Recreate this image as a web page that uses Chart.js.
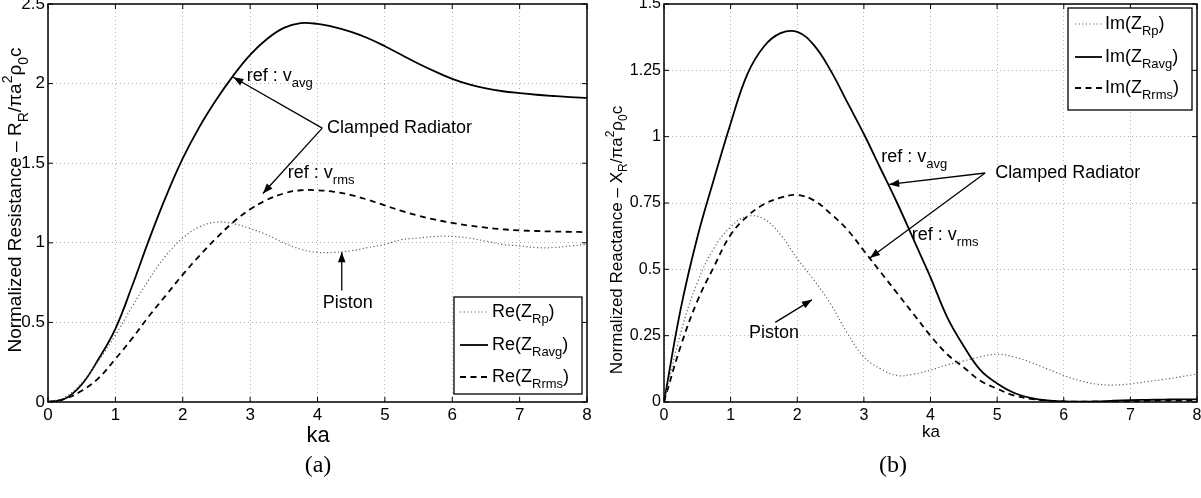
<!DOCTYPE html>
<html><head><meta charset="utf-8">
<script src="https://cdn.jsdelivr.net/npm/chart.js@4.4.0/dist/chart.umd.min.js"></script>
<style>
html,body{margin:0;padding:0;background:#fff;width:1201px;height:498px;overflow:hidden}
#ca{position:absolute;left:0;top:0}
#cb{position:absolute;left:600px;top:0}
</style></head><body>
<canvas id="ca" width="600" height="498"></canvas>
<canvas id="cb" width="601" height="498"></canvas>
<script>
// ---------- data ----------
const ka = [0,0.25,0.5,0.75,1,1.25,1.5,1.75,2,2.25,2.5,2.75,3,3.25,3.5,3.75,4,4.25,4.5,4.75,5,5.25,5.5,5.75,6,6.25,6.5,6.75,7,7.25,7.5,7.75,8];
const xTicks = [0,1,2,3,4,5,6,7,8];
const yTicksA = [0,0.5,1,1.5,2,2.5];
const yTicksB = [0,0.25,0.5,0.75,1,1.25,1.5];

const rePiston = [0,0.03,0.12,0.26,0.42,0.60,0.77,0.92,1.03,1.10,1.13,1.12,1.09,1.05,1.00,0.96,0.94,0.94,0.95,0.97,0.99,1.02,1.03,1.04,1.04,1.03,1.01,0.99,0.98,0.97,0.97,0.98,0.99];
const reAvg = [0,0.02,0.11,0.27,0.46,0.73,1.02,1.29,1.53,1.73,1.90,2.05,2.18,2.28,2.35,2.38,2.375,2.355,2.325,2.285,2.235,2.18,2.125,2.075,2.03,1.995,1.97,1.952,1.94,1.93,1.922,1.915,1.91];
const reRms = [0,0.02,0.07,0.15,0.27,0.40,0.54,0.67,0.80,0.92,1.03,1.13,1.21,1.27,1.31,1.33,1.33,1.32,1.30,1.27,1.235,1.20,1.17,1.145,1.125,1.108,1.095,1.085,1.078,1.074,1.071,1.069,1.067];

const imPiston = [0,0.26,0.45,0.58,0.66,0.70,0.69,0.63,0.54,0.46,0.37,0.26,0.17,0.125,0.10,0.105,0.12,0.14,0.155,0.17,0.18,0.17,0.15,0.125,0.10,0.08,0.067,0.064,0.068,0.077,0.085,0.095,0.105];
const imAvg = [0,0.35,0.62,0.84,1.05,1.235,1.34,1.39,1.395,1.345,1.25,1.13,1.01,0.88,0.75,0.61,0.47,0.32,0.21,0.12,0.07,0.035,0.016,0.006,0.002,0.001,0.002,0.005,0.007,0.008,0.009,0.01,0.01];
const imRms = [0,0.21,0.38,0.51,0.63,0.70,0.745,0.77,0.78,0.76,0.71,0.65,0.57,0.49,0.41,0.33,0.25,0.18,0.13,0.08,0.05,0.025,0.012,0.005,0.002,0.001,0.001,0.002,0.003,0.004,0.005,0.005,0.005];

// ---------- helpers ----------
const FONT = '"Liberation Sans", Arial, Helvetica, sans-serif';
const SERIF = '"Liberation Serif", "DejaVu Serif", serif';
function subSize(s){ return Math.round(s*0.72); }
function richWidth(ctx, segs, size){
  let w=0; for(const s of segs){ ctx.font=(s.v?subSize(size):size)+'px '+FONT; w+=ctx.measureText(s.t).width; } return w;
}
function drawRich(ctx, segs, x, y, size, align){
  const w = richWidth(ctx, segs, size);
  let cx = align==='center' ? x-w/2 : (align==='right' ? x-w : x);
  ctx.textBaseline='middle'; ctx.textAlign='left'; ctx.fillStyle='#000';
  for(const s of segs){
    const sz = s.v ? subSize(size) : size;
    ctx.font = sz+'px '+FONT;
    const dy = s.v==='sub' ? size*0.42 : (s.v==='sup' ? -size*0.40 : 0);
    ctx.fillText(s.t, cx, y+dy);
    cx += ctx.measureText(s.t).width;
  }
}
function arrow(ctx,x1,y1,x2,y2){
  ctx.save(); ctx.strokeStyle='#000'; ctx.lineWidth=1.3; ctx.setLineDash([]);
  ctx.beginPath(); ctx.moveTo(x1,y1); ctx.lineTo(x2,y2); ctx.stroke();
  const a=Math.atan2(y2-y1,x2-x1), L=10, W=3.8;
  ctx.beginPath(); ctx.moveTo(x2,y2);
  ctx.lineTo(x2-L*Math.cos(a)+W*Math.sin(a), y2-L*Math.sin(a)-W*Math.cos(a));
  ctx.lineTo(x2-L*Math.cos(a)-W*Math.sin(a), y2-L*Math.sin(a)+W*Math.cos(a));
  ctx.closePath(); ctx.fillStyle='#000'; ctx.fill(); ctx.restore();
}
const STY = [
  {borderColor:'#606060', borderWidth:1.2, borderDash:[1.2,2.4]},
  {borderColor:'#000', borderWidth:1.8, borderDash:[]},
  {borderColor:'#000', borderWidth:1.8, borderDash:[6,4.5]}
];

function decoPlugin(cfg){
  return {
    id:'deco'+cfg.id,
    afterDatasetsDraw(chart){
      const ctx=chart.ctx, a=chart.chartArea, sx=chart.scales.x, sy=chart.scales.y;
      ctx.save();
      ctx.strokeStyle='#000'; ctx.lineWidth=1.5; ctx.setLineDash([]);
      ctx.strokeRect(a.left, a.top, a.right-a.left, a.bottom-a.top);
      ctx.lineWidth=1;
      ctx.beginPath();
      for(const v of xTicks){ const px=sx.getPixelForValue(v);
        ctx.moveTo(px,a.bottom); ctx.lineTo(px,a.bottom-5); ctx.moveTo(px,a.top); ctx.lineTo(px,a.top+5); }
      for(const v of cfg.yTicks){ const py=sy.getPixelForValue(v);
        ctx.moveTo(a.left,py); ctx.lineTo(a.left+5,py); ctx.moveTo(a.right,py); ctx.lineTo(a.right-5,py); }
      ctx.stroke();
      for(const t of cfg.texts){
        drawRich(ctx, t.segs, sx.getPixelForValue(t.x), sy.getPixelForValue(t.y), 18, t.align||'left');
      }
      for(const r of cfg.arrows){
        arrow(ctx, sx.getPixelForValue(r[0]), sy.getPixelForValue(r[1]), sx.getPixelForValue(r[2]), sy.getPixelForValue(r[3]));
      }
      const L=cfg.legend;
      ctx.fillStyle='#fff'; ctx.fillRect(L.x0,L.y0,L.x1-L.x0,L.y1-L.y0);
      ctx.strokeStyle='#000'; ctx.lineWidth=1.3; ctx.setLineDash([]);
      ctx.strokeRect(L.x0,L.y0,L.x1-L.x0,L.y1-L.y0);
      cfg.legendLabels.forEach((lab,i)=>{
        const y=L.rows[i], st=STY[i];
        ctx.save(); ctx.strokeStyle=st.borderColor; ctx.lineWidth=st.borderWidth; ctx.setLineDash(st.borderDash);
        ctx.beginPath(); ctx.moveTo(L.lx0,y); ctx.lineTo(L.lx1,y); ctx.stroke(); ctx.restore();
        drawRich(ctx, lab, L.tx, y, 18, 'left');
      });
      ctx.restore();
    },
    afterDraw(chart){
      const ctx=chart.ctx; ctx.save();
      ctx.translate(cfg.yTitle.x, cfg.yTitle.y); ctx.rotate(-Math.PI/2);
      drawRich(ctx, cfg.yTitle.segs, 0, 0, cfg.yTitle.size, 'center');
      ctx.restore(); ctx.save();
      ctx.font=cfg.xTitle.size+'px '+FONT; ctx.fillStyle='#000'; ctx.textAlign='center'; ctx.textBaseline='middle';
      ctx.fillText('ka', cfg.xTitle.x, cfg.xTitle.y);
      ctx.font='24px '+SERIF;
      ctx.fillText(cfg.caption.t, cfg.caption.x, cfg.caption.y);
      ctx.restore();
    }
  };
}

function makeChart(el, cfg){
  const series=[cfg.p, cfg.avg, cfg.rms];
  return new Chart(el, {
    type:'line',
    data:{ datasets: series.map((s,i)=>Object.assign({
      data: ka.map((k,j)=>({x:k, y:s[j]})), pointRadius:0, fill:false, tension:0.4
    }, STY[i])) },
    options:{
      responsive:false, animation:false, devicePixelRatio:1,
      layout:{padding:{left:0, top:4, right:cfg.padRight, bottom:0}},
      plugins:{legend:{display:false}, tooltip:{enabled:false}},
      scales:{
        x:{ type:'linear', min:0, max:8,
          afterBuildTicks:s=>{ s.ticks = xTicks.map(v=>({value:v})); },
          ticks:{ font:{family:FONT,size:cfg.tickSize}, color:'#000', padding:cfg.xPad, maxRotation:0, autoSkip:false, callback:v=>String(v) },
          grid:{ color:'#b4b4b4', lineWidth:1, drawTicks:false, borderDash:[1,3] },
          border:{ display:false, dash:[1,3] },
          afterFit:s=>{ s.height = 96; s.paddingLeft=0; s.paddingRight=0; }
        },
        y:{ type:'linear', min:0, max:cfg.yMax,
          afterBuildTicks:s=>{ s.ticks = cfg.yTicks.map(v=>({value:v})); },
          ticks:{ font:{family:FONT,size:cfg.tickSize}, color:'#000', padding:3, autoSkip:false, callback:v=>String(v) },
          grid:{ color:'#b4b4b4', lineWidth:1, drawTicks:false, borderDash:[1,3] },
          border:{ display:false, dash:[1,3] },
          afterFit:s=>{ s.width = cfg.axisLeft; s.paddingTop=0; s.paddingBottom=0; }
        }
      }
    },
    plugins:[decoPlugin(cfg)]
  });
}

makeChart(document.getElementById('ca'), {
  id:'a', p:rePiston, avg:reAvg, rms:reRms, yMax:2.5, yTicks:yTicksA,
  padRight:13, axisLeft:48, tickSize:17, xPad:3,
  texts:[
    {x:2.95, y:2.05, segs:[{t:'ref : v'},{t:'avg',v:'sub'}]},
    {x:3.56, y:1.44, segs:[{t:'ref : v'},{t:'rms',v:'sub'}]},
    {x:4.14, y:1.72, segs:[{t:'Clamped Radiator'}]},
    {x:4.45, y:0.62, segs:[{t:'Piston'}], align:'center'}
  ],
  arrows:[[4.07,1.72,2.75,2.04],[4.07,1.72,3.19,1.31],[4.36,0.70,4.36,0.94]],
  legend:{x0:454,y0:297,x1:582,y1:394,rows:[312,345,377],lx0:460,lx1:488,tx:492},
  legendLabels:[
    [{t:'Re(Z'},{t:'Rp',v:'sub'},{t:')'}],
    [{t:'Re(Z'},{t:'Ravg',v:'sub'},{t:')'}],
    [{t:'Re(Z'},{t:'Rrms',v:'sub'},{t:')'}]
  ],
  yTitle:{x:16, y:200, size:19, segs:[{t:'Normalized Resistance \u2013 R'},{t:'R',v:'sub'},{t:'/\u03c0a'},{t:'2',v:'sup'},{t:'\u03c1'},{t:'0',v:'sub'},{t:'c'}]},
  xTitle:{x:318, y:436, size:22},
  caption:{t:'(a)', x:318, y:466}
});

makeChart(document.getElementById('cb'), {
  id:'b', p:imPiston, avg:imAvg, rms:imRms, yMax:1.5, yTicks:yTicksB,
  padRight:4, axisLeft:64, tickSize:16, xPad:4,
  texts:[
    {x:3.26, y:0.923, segs:[{t:'ref : v'},{t:'avg',v:'sub'}]},
    {x:3.72, y:0.63, segs:[{t:'ref : v'},{t:'rms',v:'sub'}]},
    {x:4.97, y:0.863, segs:[{t:'Clamped Radiator'}]},
    {x:1.65, y:0.26, segs:[{t:'Piston'}], align:'center'}
  ],
  arrows:[[4.82,0.863,3.38,0.82],[4.82,0.863,3.09,0.543],[1.67,0.30,2.22,0.385]],
  legend:{x0:468,y0:8,x1:592,y1:110,rows:[24,57,88],lx0:475,lx1:502,tx:505},
  legendLabels:[
    [{t:'Im(Z'},{t:'Rp',v:'sub'},{t:')'}],
    [{t:'Im(Z'},{t:'Ravg',v:'sub'},{t:')'}],
    [{t:'Im(Z'},{t:'Rrms',v:'sub'},{t:')'}]
  ],
  yTitle:{x:17, y:240, size:17, segs:[{t:'Normalized Reactance \u2013 X'},{t:'R',v:'sub'},{t:'/\u03c0a'},{t:'2',v:'sup'},{t:'\u03c1'},{t:'0',v:'sub'},{t:'c'}]},
  xTitle:{x:331, y:432, size:17},
  caption:{t:'(b)', x:293, y:466}
});
</script>
</body></html>
